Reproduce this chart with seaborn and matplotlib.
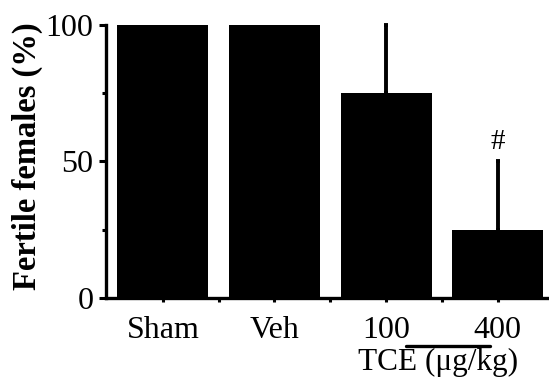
import matplotlib
matplotlib.use('Agg')
import matplotlib.pyplot as plt
import seaborn as sns
import pandas as pd
from matplotlib.ticker import FixedLocator

# --- dados ---
grupos = ['Sham', 'Veh', '100', '400']
femeas_ferteis = [100, 100, 75, 25]   # %
erro_sup = [0, 0, 25, 25]             # barra de erro (só para cima)
marcas = ['', '', '', '#']

sns.set_style('ticks', {'axes.edgecolor': 'black', 'text.color': 'black',
                        'axes.labelcolor': 'black', 'xtick.color': 'black',
                        'ytick.color': 'black'})
plt.rcParams['font.family'] = ['Liberation Serif', 'DejaVu Serif']

df = pd.DataFrame({'grupo': grupos, 'valor': femeas_ferteis})

fig = plt.figure(figsize=(5.49, 3.78), dpi=100)
ax = fig.add_axes([0.193, 0.212, 0.807, 0.722])

sns.barplot(data=df, x='grupo', y='valor', color='black', saturation=1,
            width=0.815, errorbar=None, ax=ax, zorder=2, linewidth=0)

# barras de erro só para cima
for i, (v, e) in enumerate(zip(femeas_ferteis, erro_sup)):
    if e > 0:
        ax.errorbar(i, v, yerr=[[0], [e]], fmt='none', ecolor='black',
                    elinewidth=2.8, capsize=1.2, capthick=2.8, zorder=1,
                    clip_on=False)
    if marcas[i]:
        ax.text(i, v + e + 7, marcas[i], ha='center', va='center', fontsize=21)

ax.set_xlim(-0.51, 3.46)
ax.set_ylim(0, 100)
ax.set_yticks([0, 50, 100])
ax.yaxis.set_minor_locator(FixedLocator([25, 75]))
ax.xaxis.set_minor_locator(FixedLocator([0.5, 1.5, 2.5]))

ax.set_xlabel('')
ax.set_ylabel('Fertile females (%)', fontsize=23.5, fontweight='bold', labelpad=0)
ax.yaxis.set_label_coords(-0.143, 0.52)
ax.tick_params(axis='both', which='major', labelsize=23, width=2.2, length=4, colors='black')
ax.tick_params(axis='y', which='major', length=5, pad=4)
ax.tick_params(axis='x', which='major', length=3, pad=10)
ax.tick_params(axis='both', which='minor', width=2.2, length=3, colors='black')

for lado in ['left', 'bottom']:
    ax.spines[lado].set_linewidth(2.4)
    ax.spines[lado].set_color('black')
sns.despine(ax=ax, top=True, right=True)

# linha e rótulo do TCE
ax.plot([2.18, 2.93], [-17.6, -17.6], color='black', lw=2.4, clip_on=False)
ax.text(2.47, -26.6, 'TCE (\u03bcg/kg)', ha='center', va='baseline', fontsize=22.5,
        color='black')

fig.savefig('out.png', dpi=100)
